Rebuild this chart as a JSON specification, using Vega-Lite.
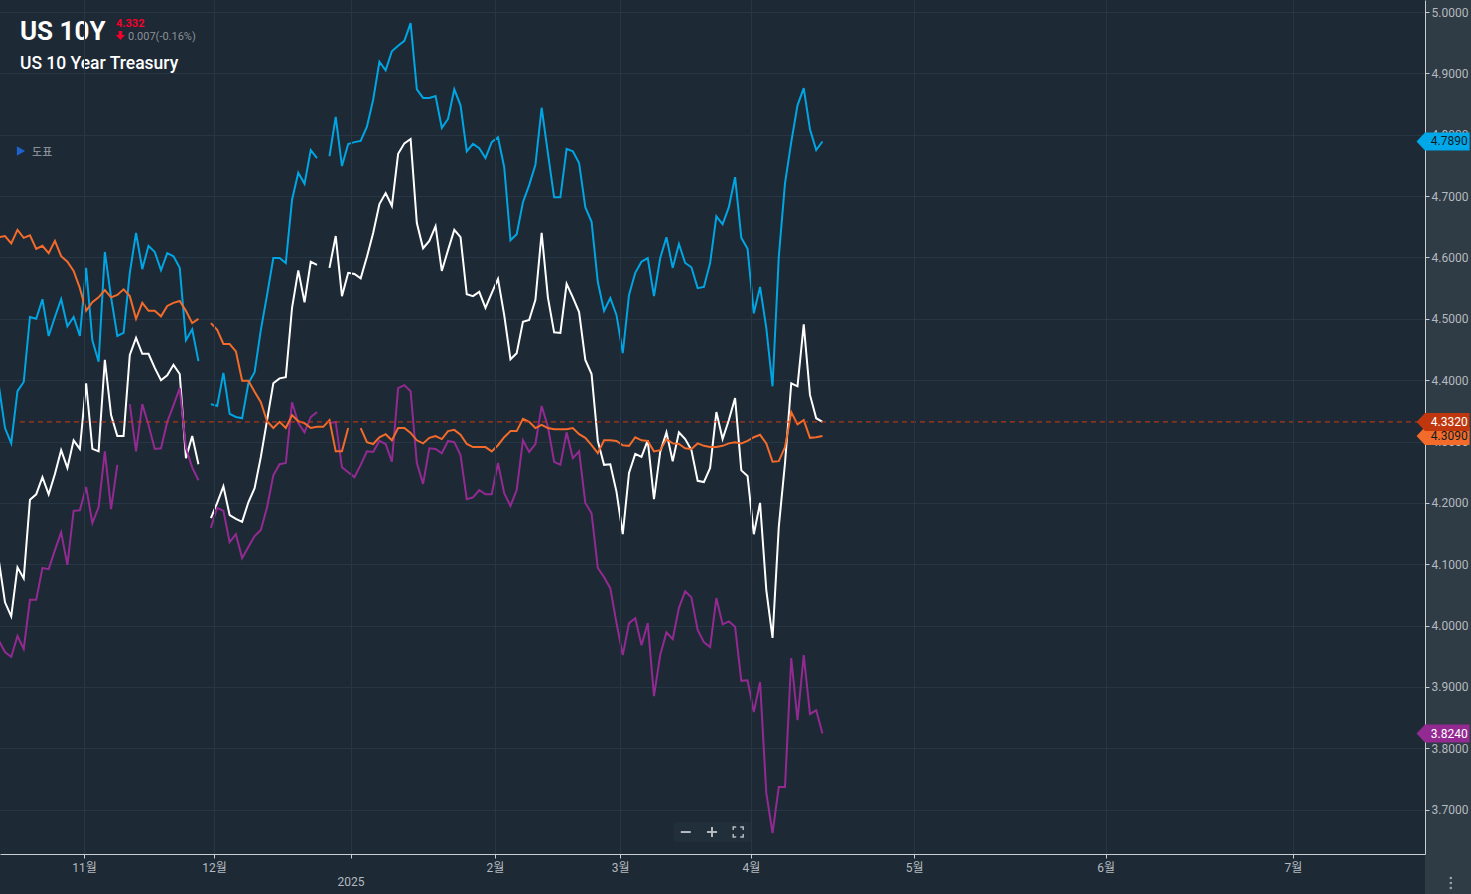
{"$schema":"https://vega.github.io/schema/vega-lite/v6.json","width":1425,"height":854,"autosize":{"type":"none"},"padding":{"left":0,"top":0,"right":46,"bottom":40},"background":"#2f3b45","view":{"fill":"#1d2935","stroke":null},
"datasets":{"yields":[
{"session":-1,"blue":4.392,"white":4.107,"orange":4.633,"purple":3.976},
{"session":0,"blue":4.322,"white":4.038,"orange":4.635,"purple":3.957},
{"session":1,"blue":4.297,"white":4.015,"orange":4.623,"purple":3.949},
{"session":2,"blue":4.382,"white":4.095,"orange":4.645,"purple":3.983},
{"session":3,"blue":4.397,"white":4.077,"orange":4.632,"purple":3.962},
{"session":4,"blue":4.503,"white":4.205,"orange":4.636,"purple":4.042},
{"session":5,"blue":4.5,"white":4.214,"orange":4.614,"purple":4.042},
{"session":6,"blue":4.532,"white":4.242,"orange":4.619,"purple":4.094},
{"session":7,"blue":4.472,"white":4.214,"orange":4.607,"purple":4.092},
{"session":8,"blue":4.503,"white":4.247,"orange":4.627,"purple":4.123},
{"session":9,"blue":4.532,"white":4.286,"orange":4.602,"purple":4.152},
{"session":10,"blue":4.488,"white":4.257,"orange":4.593,"purple":4.099},
{"session":11,"blue":4.503,"white":4.302,"orange":4.578,"purple":4.187},
{"session":12,"blue":4.472,"white":4.288,"orange":4.55,"purple":4.188},
{"session":13,"blue":4.583,"white":4.395,"orange":4.513,"purple":4.226},
{"session":14,"blue":4.465,"white":4.288,"orange":4.527,"purple":4.167},
{"session":15,"blue":4.43,"white":4.284,"orange":4.535,"purple":4.193},
{"session":16,"blue":4.609,"white":4.433,"orange":4.547,"purple":4.284},
{"session":17,"blue":4.535,"white":4.343,"orange":4.535,"purple":4.19},
{"session":18,"blue":4.472,"white":4.309,"orange":4.539,"purple":4.262},
{"session":19,"blue":4.477,"white":4.309,"orange":4.548,"purple":null},
{"session":20,"blue":4.575,"white":4.441,"orange":4.537,"purple":4.361},
{"session":21,"blue":4.64,"white":4.469,"orange":4.5,"purple":4.284},
{"session":22,"blue":4.581,"white":4.443,"orange":4.526,"purple":4.361},
{"session":23,"blue":4.619,"white":4.443,"orange":4.513,"purple":4.327},
{"session":24,"blue":4.609,"white":4.42,"orange":4.513,"purple":4.288},
{"session":25,"blue":4.579,"white":4.4,"orange":4.504,"purple":4.289},
{"session":26,"blue":4.607,"white":4.408,"orange":4.521,"purple":4.332},
{"session":27,"blue":4.602,"white":4.425,"orange":4.526,"purple":4.359},
{"session":28,"blue":4.583,"white":4.41,"orange":4.529,"purple":4.387},
{"session":29,"blue":4.465,"white":4.273,"orange":4.513,"purple":4.289},
{"session":30,"blue":4.483,"white":4.309,"orange":4.493,"purple":4.258},
{"session":31,"blue":4.431,"white":4.263,"orange":4.5,"purple":4.237},
{"session":32,"blue":null,"white":null,"orange":null,"purple":null},
{"session":33,"blue":4.361,"white":4.175,"orange":4.493,"purple":4.159},
{"session":34,"blue":4.358,"white":4.2,"orange":4.482,"purple":4.192},
{"session":35,"blue":4.412,"white":4.227,"orange":4.459,"purple":4.187},
{"session":36,"blue":4.345,"white":4.18,"orange":4.459,"purple":4.136},
{"session":37,"blue":4.34,"white":4.174,"orange":4.447,"purple":4.149},
{"session":38,"blue":4.338,"white":4.169,"orange":4.399,"purple":4.11},
{"session":39,"blue":4.395,"white":4.201,"orange":4.399,"purple":4.128},
{"session":40,"blue":4.413,"white":4.224,"orange":4.381,"purple":4.146},
{"session":41,"blue":4.482,"white":4.275,"orange":4.364,"purple":4.156},
{"session":42,"blue":4.539,"white":4.335,"orange":4.333,"purple":4.193},
{"session":43,"blue":4.599,"white":4.395,"orange":4.322,"purple":4.245},
{"session":44,"blue":4.599,"white":4.403,"orange":4.332,"purple":4.263},
{"session":45,"blue":4.591,"white":4.405,"orange":4.322,"purple":4.265},
{"session":46,"blue":4.694,"white":4.518,"orange":4.343,"purple":4.364},
{"session":47,"blue":4.738,"white":4.579,"orange":4.333,"purple":4.33},
{"session":48,"blue":4.72,"white":4.527,"orange":4.33,"purple":4.315},
{"session":49,"blue":4.775,"white":4.593,"orange":4.322,"purple":4.34},
{"session":50,"blue":4.762,"white":4.588,"orange":4.324,"purple":4.348},
{"session":51,"blue":null,"white":null,"orange":4.324,"purple":null},
{"session":52,"blue":4.765,"white":4.583,"orange":4.335,"purple":4.33},
{"session":53,"blue":4.829,"white":4.635,"orange":4.284,"purple":4.332},
{"session":54,"blue":4.749,"white":4.537,"orange":4.284,"purple":4.258},
{"session":55,"blue":4.785,"white":4.575,"orange":4.322,"purple":4.25},
{"session":56,"blue":4.788,"white":4.573,"orange":null,"purple":4.242},
{"session":57,"blue":4.79,"white":4.566,"orange":4.322,"purple":4.262},
{"session":58,"blue":4.813,"white":4.601,"orange":4.299,"purple":4.284},
{"session":59,"blue":4.857,"white":4.64,"orange":4.296,"purple":4.283},
{"session":60,"blue":4.919,"white":4.687,"orange":4.307,"purple":4.301},
{"session":61,"blue":4.905,"white":4.705,"orange":4.312,"purple":4.296},
{"session":62,"blue":4.936,"white":4.684,"orange":4.302,"purple":4.267},
{"session":63,"blue":4.945,"white":4.769,"orange":4.322,"purple":4.387},
{"session":64,"blue":4.953,"white":4.786,"orange":4.322,"purple":4.392},
{"session":65,"blue":4.982,"white":4.793,"orange":4.314,"purple":4.382},
{"session":66,"blue":4.874,"white":4.656,"orange":4.302,"purple":4.265},
{"session":67,"blue":4.86,"white":4.615,"orange":4.297,"purple":4.231},
{"session":68,"blue":4.86,"white":4.627,"orange":4.306,"purple":4.289},
{"session":69,"blue":4.863,"white":4.651,"orange":4.309,"purple":4.288},
{"session":70,"blue":4.811,"white":4.578,"orange":4.304,"purple":4.281},
{"session":71,"blue":4.826,"white":4.612,"orange":4.317,"purple":4.301},
{"session":72,"blue":4.874,"white":4.645,"orange":4.319,"purple":4.299},
{"session":73,"blue":4.848,"white":4.633,"orange":4.311,"purple":4.278},
{"session":74,"blue":4.773,"white":4.54,"orange":4.296,"purple":4.206},
{"session":75,"blue":4.785,"white":4.537,"orange":4.291,"purple":4.209},
{"session":76,"blue":4.778,"white":4.544,"orange":4.291,"purple":4.221},
{"session":77,"blue":4.762,"white":4.518,"orange":4.291,"purple":4.214},
{"session":78,"blue":4.788,"white":4.542,"orange":4.284,"purple":4.214},
{"session":79,"blue":4.796,"white":4.565,"orange":4.294,"purple":4.265},
{"session":80,"blue":4.747,"white":4.506,"orange":4.307,"purple":4.216},
{"session":81,"blue":4.628,"white":4.434,"orange":4.317,"purple":4.195},
{"session":82,"blue":4.638,"white":4.444,"orange":4.317,"purple":4.221},
{"session":83,"blue":4.69,"white":4.495,"orange":4.337,"purple":4.302},
{"session":84,"blue":4.718,"white":4.498,"orange":4.332,"purple":4.283},
{"session":85,"blue":4.751,"white":4.531,"orange":4.322,"purple":4.296},
{"session":86,"blue":4.844,"white":4.64,"orange":4.327,"purple":4.358},
{"session":87,"blue":4.77,"white":4.535,"orange":4.322,"purple":4.324},
{"session":88,"blue":4.698,"white":4.478,"orange":4.32,"purple":4.267},
{"session":89,"blue":4.698,"white":4.477,"orange":4.32,"purple":4.262},
{"session":90,"blue":4.777,"white":4.557,"orange":4.32,"purple":4.315},
{"session":91,"blue":4.773,"white":4.535,"orange":4.322,"purple":4.273},
{"session":92,"blue":4.754,"white":4.511,"orange":4.312,"purple":4.284},
{"session":93,"blue":4.682,"white":4.433,"orange":4.306,"purple":4.2},
{"session":94,"blue":4.658,"white":4.41,"orange":4.294,"purple":4.183},
{"session":95,"blue":4.56,"white":4.301,"orange":4.281,"purple":4.094},
{"session":96,"blue":4.513,"white":4.262,"orange":4.302,"purple":4.079},
{"session":97,"blue":4.534,"white":4.263,"orange":4.302,"purple":4.061},
{"session":98,"blue":4.506,"white":4.218,"orange":4.301,"purple":4.004},
{"session":99,"blue":4.444,"white":4.149,"orange":4.294,"purple":3.952},
{"session":100,"blue":4.539,"white":4.249,"orange":4.293,"purple":4.004},
{"session":101,"blue":4.575,"white":4.28,"orange":4.307,"purple":4.012},
{"session":102,"blue":4.593,"white":4.275,"orange":4.302,"purple":3.968},
{"session":103,"blue":4.599,"white":4.302,"orange":4.301,"purple":4.004},
{"session":104,"blue":4.537,"white":4.206,"orange":4.284,"purple":3.885},
{"session":105,"blue":4.599,"white":4.283,"orange":4.286,"purple":3.952},
{"session":106,"blue":4.633,"white":4.315,"orange":4.304,"purple":3.989},
{"session":107,"blue":4.583,"white":4.268,"orange":4.297,"purple":3.978},
{"session":108,"blue":4.622,"white":4.315,"orange":4.296,"purple":4.029},
{"session":109,"blue":4.591,"white":4.304,"orange":4.289,"purple":4.056},
{"session":110,"blue":4.584,"white":4.286,"orange":4.288,"purple":4.046},
{"session":111,"blue":4.55,"white":4.236,"orange":4.297,"purple":3.993},
{"session":112,"blue":4.552,"white":4.234,"orange":4.293,"purple":3.973},
{"session":113,"blue":4.591,"white":4.257,"orange":4.291,"purple":3.965},
{"session":114,"blue":4.667,"white":4.348,"orange":4.291,"purple":4.045},
{"session":115,"blue":4.654,"white":4.304,"orange":4.293,"purple":4.002},
{"session":116,"blue":4.682,"white":4.335,"orange":4.297,"purple":4.007},
{"session":117,"blue":4.731,"white":4.371,"orange":4.299,"purple":3.998},
{"session":118,"blue":4.632,"white":4.253,"orange":4.297,"purple":3.91},
{"session":119,"blue":4.614,"white":4.244,"orange":4.301,"purple":3.911},
{"session":120,"blue":4.509,"white":4.149,"orange":4.307,"purple":3.859},
{"session":121,"blue":4.552,"white":4.2,"orange":4.311,"purple":3.908},
{"session":122,"blue":4.485,"white":4.058,"orange":4.297,"purple":3.727},
{"session":123,"blue":4.39,"white":3.98,"orange":4.267,"purple":3.662},
{"session":124,"blue":4.601,"white":4.161,"orange":4.268,"purple":3.737},
{"session":125,"blue":4.721,"white":4.265,"orange":4.291,"purple":3.737},
{"session":126,"blue":4.788,"white":4.395,"orange":4.348,"purple":3.947},
{"session":127,"blue":4.848,"white":4.39,"orange":4.328,"purple":3.846},
{"session":128,"blue":4.876,"white":4.491,"orange":4.335,"purple":3.952},
{"session":129,"blue":4.809,"white":4.376,"orange":4.306,"purple":3.856},
{"session":130,"blue":4.775,"white":4.338,"orange":4.307,"purple":3.862},
{"session":131,"blue":4.789,"white":4.332,"orange":4.309,"purple":3.824}
]},
"data":{"name":"yields"},
"layer":[
{"data":{"values":[{}]},"mark":{"type":"rect","color":"#1d2935","clip":false},"encoding":{"x":{"datum":-0.801},"x2":{"datum":227.56},"y":{"datum":3.6278},"y2":{"datum":3.5625}}},
{"mark":{"type":"line","color":"#00a5e3","strokeWidth":2,"clip":true},"encoding":{
"x":{"field":"session","type":"quantitative","title":null,"scale":{"domain":[-0.801,227.56],"nice":false,"zero":false},
"axis":{"orient":"bottom","zindex":1,"title":null,"values":[12.66,33.5,55.45,78.5,98.56,119.55,145.7,176.4,206.4],"labelExpr":"datum.value==12.66?'11월':datum.value==33.5?'12월':datum.value==78.5?'2월':datum.value==98.56?'3월':datum.value==119.55?'4월':datum.value==145.7?'5월':datum.value==176.4?'6월':datum.value==206.4?'7월':''","labelColor":"#b4babf","labelFont":"Roboto, Noto Sans CJK KR","labelFontSize":12,"labelPadding":4,"labelOverlap":false,"labelBound":false,"labelFlush":false,"tickColor":"#c8cdd1","tickSize":4,"domainColor":"#c8cdd1","grid":true,"gridColor":"#273645","gridWidth":1}},
"y":{"field":"blue","type":"quantitative","title":null,"scale":{"domain":[3.6278,5.0196],"nice":false,"zero":false},
"axis":{"orient":"right","zindex":0,"title":null,"values":[3.7,3.8,3.9,4,4.1,4.2,4.3,4.4,4.5,4.6,4.7,4.8,4.9,5],"format":".4f","labelColor":"#b4babf","labelFont":"Roboto","labelFontSize":12,"labelPadding":2,"labelOverlap":false,"labelBound":false,"tickColor":"#c8cdd1","tickSize":4,"domainColor":"#c8cdd1","grid":true,"gridColor":"#273645","gridWidth":1}}}},
{"mark":{"type":"line","color":"#ffffff","strokeWidth":2,"clip":true},"encoding":{"x":{"field":"session","type":"quantitative"},"y":{"field":"white","type":"quantitative"}}},
{"mark":{"type":"line","color":"#932a92","strokeWidth":2,"clip":true},"encoding":{"x":{"field":"session","type":"quantitative"},"y":{"field":"purple","type":"quantitative"}}},
{"mark":{"type":"line","color":"#f36b2a","strokeWidth":2,"clip":true},"encoding":{"x":{"field":"session","type":"quantitative"},"y":{"field":"orange","type":"quantitative"}}},
{"data":{"values":[{}]},"mark":{"type":"rule","color":"#d03a14","strokeWidth":1,"strokeDash":[5,4]},"encoding":{"x":{"datum":2.4},"x2":{"datum":227.56},"y":{"datum":4.332}}},
{"data":{"values":[{}]},"mark":{"type":"rect","color":"#212f3b","cornerRadius":3},"encoding":{"x":{"datum":107.2},"x2":{"datum":119.7},"y":{"datum":3.68},"y2":{"datum":3.647}}},
{"data":{"values":[{}]},"mark":{"type":"point","shape":"M-1,0H1","size":100,"filled":false,"stroke":"#b4babf","strokeWidth":2,"opacity":1},"encoding":{"x":{"datum":109.1},"y":{"datum":3.6636}}},
{"data":{"values":[{}]},"mark":{"type":"point","shape":"M-1,0H1M0,-1V1","size":100,"filled":false,"stroke":"#b4babf","strokeWidth":2,"opacity":1},"encoding":{"x":{"datum":113.3},"y":{"datum":3.6636}}},
{"data":{"values":[{}]},"mark":{"type":"point","shape":"M-1,-0.4V-1H-0.4M0.4,-1H1V-0.4M1,0.4V1H0.4M-0.4,1H-1V0.4","size":100,"filled":false,"stroke":"#b4babf","strokeWidth":1.5,"opacity":1},"encoding":{"x":{"datum":117.5},"y":{"datum":3.6636}}},
{"data":{"values":[{"last":4.789}]},"mark":{"type":"point","shape":"M-1,0L-0.68,-0.34L1,-0.34L1,0.34L-0.68,0.34Z","size":2809,"filled":true,"color":"#00a8ea","opacity":1,"clip":false},"encoding":{"x":{"datum":230.45},"y":{"field":"last","type":"quantitative"}}},
{"data":{"values":[{"last":4.309}]},"mark":{"type":"point","shape":"M-1,0L-0.68,-0.34L1,-0.34L1,0.34L-0.68,0.34Z","size":2809,"filled":true,"color":"#f36b2a","opacity":1,"clip":false},"encoding":{"x":{"datum":230.45},"y":{"field":"last","type":"quantitative"}}},
{"data":{"values":[{"last":4.332}]},"mark":{"type":"point","shape":"M-1,0L-0.68,-0.34L1,-0.34L1,0.34L-0.68,0.34Z","size":2809,"filled":true,"color":"#c0370e","opacity":1,"clip":false},"encoding":{"x":{"datum":230.45},"y":{"field":"last","type":"quantitative"}}},
{"data":{"values":[{"last":3.824}]},"mark":{"type":"point","shape":"M-1,0L-0.68,-0.34L1,-0.34L1,0.34L-0.68,0.34Z","size":2809,"filled":true,"color":"#932a92","opacity":1,"clip":false},"encoding":{"x":{"datum":230.45},"y":{"field":"last","type":"quantitative"}}},
{"data":{"values":[{"last":4.789,"label":"4.7890"},{"last":4.309,"label":"4.3090"}]},"mark":{"type":"text","font":"Roboto","fontSize":12,"align":"right","baseline":"middle","color":"#0f1c26","clip":false},"encoding":{"x":{"datum":234.4},"y":{"field":"last","type":"quantitative"},"text":{"field":"label"}}},
{"data":{"values":[{"last":4.332,"label":"4.3320"},{"last":3.824,"label":"3.8240"}]},"mark":{"type":"text","font":"Roboto","fontSize":12,"align":"right","baseline":"middle","color":"#ffffff","clip":false},"encoding":{"x":{"datum":234.4},"y":{"field":"last","type":"quantitative"},"text":{"field":"label"}}},
{"data":{"values":[{"label":"US 10Y"}]},"mark":{"type":"text","font":"Roboto","fontWeight":"bold","fontSize":26,"align":"left","baseline":"alphabetic","color":"#ffffff"},"encoding":{"x":{"datum":2.4},"y":{"datum":4.9544},"text":{"field":"label"}}},
{"data":{"values":[{"label":"US 10 Year Treasury"}]},"mark":{"type":"text","font":"Roboto","fontWeight":500,"fontSize":17.5,"align":"left","baseline":"alphabetic","color":"#ffffff"},"encoding":{"x":{"datum":2.4},"y":{"datum":4.9071},"text":{"field":"label"}}},
{"data":{"values":[{"label":"4.332"}]},"mark":{"type":"text","font":"Roboto","fontWeight":"bold","fontSize":11,"align":"left","baseline":"alphabetic","color":"#f5002a"},"encoding":{"x":{"datum":17.79},"y":{"datum":4.9756},"text":{"field":"label"}}},
{"data":{"values":[{"label":"0.007(-0.16%)"}]},"mark":{"type":"text","font":"Roboto","fontSize":11,"align":"left","baseline":"alphabetic","color":"#8a9096"},"encoding":{"x":{"datum":19.71},"y":{"datum":4.9544},"text":{"field":"label"}}},
{"data":{"values":[{}]},"mark":{"type":"point","shape":"M-0.4,-1H0.4V-0.1H1L0,1L-1,-0.1H-0.4Z","size":81,"filled":true,"color":"#f5002a","opacity":1},"encoding":{"x":{"datum":18.5},"y":{"datum":4.9617}}},
{"data":{"values":[{}]},"mark":{"type":"point","shape":"triangle-right","size":90,"filled":true,"color":"#1e62d0","opacity":1},"encoding":{"x":{"datum":2.56},"y":{"datum":4.7735}}},
{"data":{"values":[{"label":"도표"}]},"mark":{"type":"text","font":"Noto Sans CJK KR","fontSize":11,"align":"left","baseline":"alphabetic","color":"#9aa0a6"},"encoding":{"x":{"datum":4.33},"y":{"datum":4.7653},"text":{"field":"label"}}},
{"data":{"values":[{"label":"2025"}]},"mark":{"type":"text","font":"Roboto","fontSize":12,"align":"center","baseline":"middle","color":"#b4babf","clip":false},"encoding":{"x":{"datum":55.45},"y":{"datum":3.5822},"text":{"field":"label"}}},
{"data":{"values":[{"dot":3.5887},{"dot":3.5805},{"dot":3.5724}]},"mark":{"type":"point","shape":"circle","size":7,"filled":true,"color":"#9aa0a6","opacity":1,"clip":false},"encoding":{"x":{"datum":231.7},"y":{"field":"dot","type":"quantitative"}}}
]}
